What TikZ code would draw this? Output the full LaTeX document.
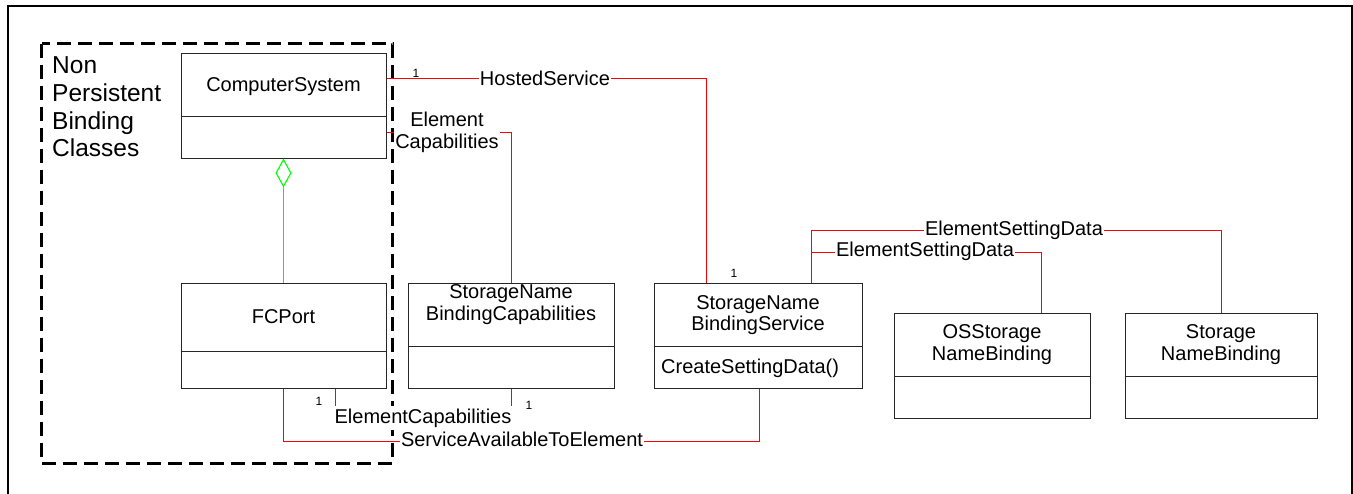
\documentclass[tikz,border=0pt]{standalone}
\usepackage{fontspec}
\setmainfont{Liberation Sans}
\usetikzlibrary{arrows.meta}
\definecolor{linkred}{RGB}{255,0,0}
\definecolor{aggrgreen}{RGB}{0,255,0}
\tikzset{
  cls/.style={draw=black!85, line width=1pt, inner sep=0pt},
  txt/.style={font=\fontsize{20}{22}\selectfont, inner sep=0pt, anchor=base},
  lbl/.style={font=\fontsize{20}{22}\selectfont, fill=white, inner xsep=1pt, inner ysep=1pt, anchor=base},
  mult/.style={font=\fontsize{12}{14}\selectfont, inner sep=0pt, anchor=base},
  grptxt/.style={font=\fontsize{24.5}{28}\selectfont, inner sep=0pt, anchor=base west},
  assoc/.style={draw=linkred, line width=1.1pt},
  aggr/.style={draw=aggrgreen, line width=1.1pt, -{Diamond[open,length=29pt,width=16pt]}},
  group/.style={draw=black, line width=3pt, dash pattern=on 14pt off 7pt},
  frame/.style={draw=black, line width=2pt}
}
\begin{document}
\begin{tikzpicture}[x=1pt,y=-1pt]
\useasboundingbox (0,0) rectangle (1353,493);
% outer frame
\draw[frame] (7.5,500) -- (7.5,6) -- (1351.5,6) -- (1351.5,500);

% group box
\draw[group] (41.5,43.5) rectangle (392.5,463);
\node[grptxt] (grp1) at (52,73.5) {Non};
\node[grptxt] (grp2) at (52,101.3) {Persistent};
\node[grptxt] (grp3) at (52,129.1) {Binding};
\node[grptxt] (grp4) at (52,156.9) {Classes};

% classes
\node[cls, minimum width=205pt, minimum height=105pt] (cs) at (283.5,105.5) {};
\draw[cls] (cs.west |- 0,116) -- (cs.east |- 0,116);
\node[txt] (cst) at (283.5,91) {ComputerSystem};

\node[cls, minimum width=205pt, minimum height=105pt] (fc) at (283.5,335.5) {};
\draw[cls] (fc.west |- 0,351) -- (fc.east |- 0,351);
\node[txt] (fct) at (283.5,323.3) {FCPort};

\node[cls, minimum width=206pt, minimum height=105pt] (sbc) at (511,335.5) {};
\draw[cls] (sbc.west |- 0,346) -- (sbc.east |- 0,346);
\node[txt] (sbct1) at (511,298.3) {StorageName};
\node[txt] (sbct2) at (511,320) {BindingCapabilities};

\node[cls, minimum width=208pt, minimum height=105pt] (sbs) at (758,335.5) {};
\draw[cls] (sbs.west |- 0,346) -- (sbs.east |- 0,346);
\node[txt] (sbst1) at (758,309.3) {StorageName};
\node[txt] (sbst2) at (758,330.7) {BindingService};
\node[txt, anchor=base west] (sbsop) at (661,373.3) {CreateSettingData()};

\node[cls, minimum width=196pt, minimum height=105pt] (os) at (992,365.5) {};
\draw[cls] (os.west |- 0,376) -- (os.east |- 0,376);
\node[txt] (ost1) at (992,338.3) {OSStorage};
\node[txt] (ost2) at (992,360.7) {NameBinding};

\node[cls, minimum width=192pt, minimum height=105pt] (snb) at (1221,365.5) {};
\draw[cls] (snb.west |- 0,376) -- (snb.east |- 0,376);
\node[txt] (snbt1) at (1221,338.3) {Storage};
\node[txt] (snbt2) at (1221,360.7) {NameBinding};

% aggregation
\draw[aggr] (fc.north) -- (cs.south);

% HostedService
\draw[assoc] (cs.east |- 0,78.5) -- (706.5,78.5) -- (sbs.north -| 706.5,0);
\node[lbl] (hs) at (545,85) {HostedService};
\node[mult] (m1) at (416,77.3) {1};
\node[mult] (m2) at (734,277.7) {1};

% ElementCapabilities (top)
\draw[assoc] (cs.east |- 0,132.5) -- (511.5,132.5) -- (sbc.north -| 511.5,0);
\node[lbl] (ec1) at (447,126) {Element};
\node[lbl, inner ysep=2.5pt] (ec2) at (447,148.3) {Capabilities};

% ElementCapabilities (bottom)
\draw[assoc] (fc.south -| 335.5,0) -- (335.5,418) -- (511.5,418) -- (sbc.south -| 511.5,0);
\node[lbl, inner xsep=3pt, inner ysep=2.5pt] (ecb) at (423,423.3) {ElementCapabilities};
\node[mult] (m3) at (319,405) {1};
\node[mult] (m4) at (529,409.3) {1};

% ServiceAvailableToElement
\draw[assoc] (fc.south) -- (283.5,441.5) -- (759.5,441.5) -- (sbs.south -| 759.5,0);
\node[lbl] (sate) at (522,446.7) {ServiceAvailableToElement};

% ElementSettingData
\draw[assoc] (sbs.north -| 811.5,0) -- (811.5,230.5) -- (1221.5,230.5) -- (snb.north -| 1221.5,0);
\node[lbl] (esd1) at (1014,235) {ElementSettingData};
\coordinate (esdj) at (811.5,252.5);
\draw[assoc] (esdj) -- (1041.5,252.5) -- (os.north -| 1041.5,0);
\node[lbl] (esd2) at (925,256.7) {ElementSettingData};
\end{tikzpicture}
\end{document}
